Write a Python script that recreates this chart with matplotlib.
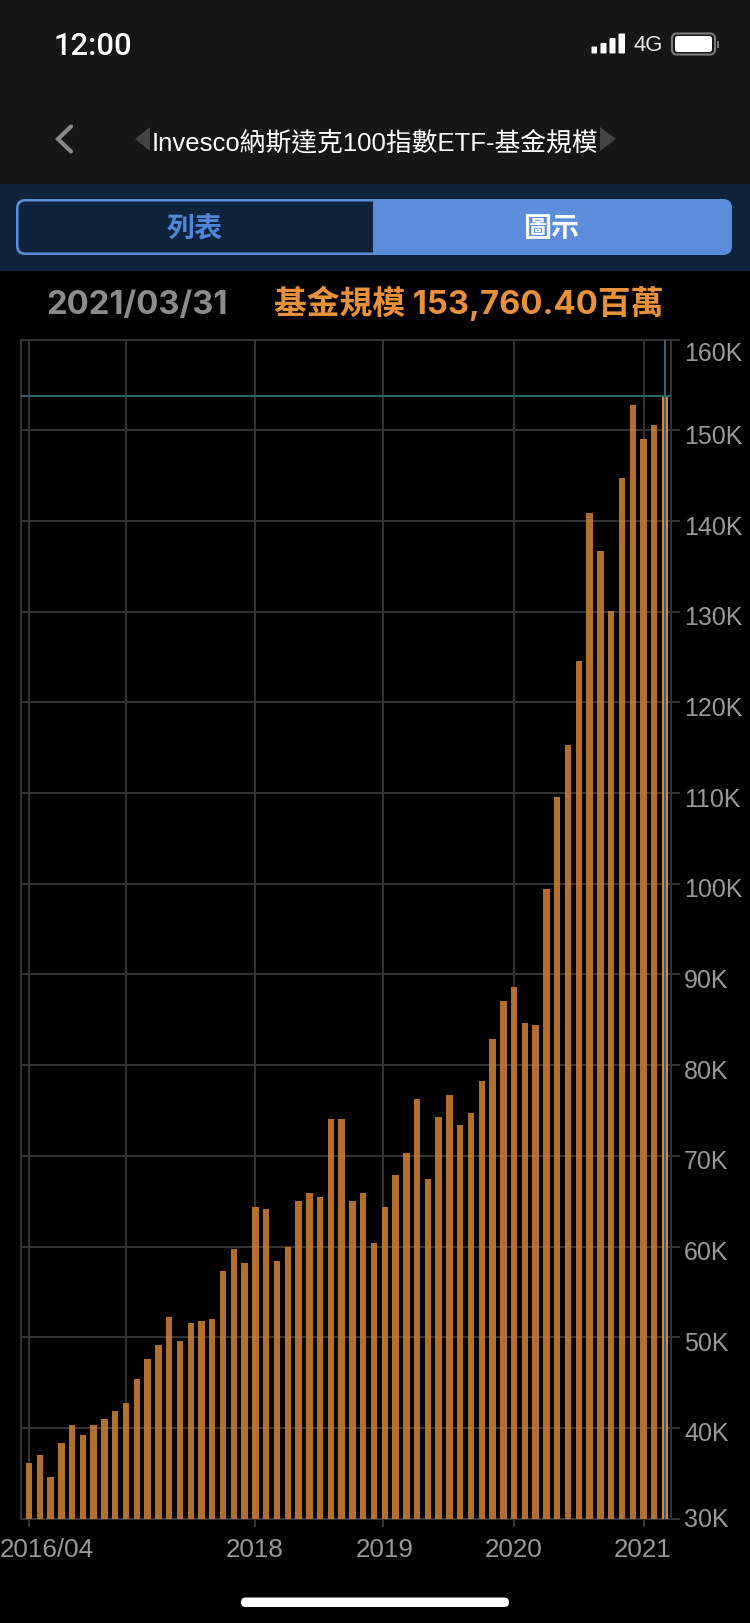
import matplotlib
matplotlib.use("Agg")
import matplotlib.pyplot as plt
import numpy as np
from matplotlib.patches import FancyBboxPatch, Polygon, Rectangle
from matplotlib.transforms import ScaledTranslation

# fund size in thousands of millions, one bar per month 2016/04 - 2021/03
values = [
    36.1, 37.0, 34.6, 38.3, 40.3, 39.2, 40.3, 41.0, 41.9, 42.75,
    45.4, 47.6, 49.15, 52.2, 49.6, 51.6, 51.8, 52.0, 57.3, 59.7,
    58.2, 64.4, 64.15, 58.4, 59.95, 65.0, 65.9, 65.5, 74.1, 74.1,
    65.0, 65.9, 60.4, 64.4, 67.9, 70.3, 76.3, 67.45, 74.3, 76.7,
    73.4, 74.7, 78.3, 82.9, 87.1, 88.6, 84.7, 84.4, 99.4, 109.6,
    115.3, 124.6, 140.9, 136.7, 130.1, 144.7, 152.8, 149.1, 150.6, 153.76,
]
y_ticks = [30, 40, 50, 60, 70, 80, 90, 100, 110, 120, 130, 140, 150, 160]
y_labels = [f"{v}K" for v in y_ticks]
x_ticks = [0, 21, 32.85, 45, 57]
x_labels = ["2016/04", "2018", "2019", "2020", "2021"]
extra_grid = [9]  # 2017 has a grid line but no label
title = "Invesco納斯達克100指數ETF-基金規模"
date_text = "2021/03/31"
value_text = "基金規模 153,760.40百萬"

BAR = "#C87C35"
LAST_BAR = "#F0963C"
GRID = "#333333"
TEAL = "#2F626B"
LABEL = "#999999"
BLUE = "#5B8DDB"
NAVY = "#10233C"
HEAD = "#161616"
CJK = ["Liberation Sans", "Noto Sans CJK TC"]
BOLD = ["Inter", "Noto Sans CJK TC"]
PX = 0.72  # px -> pt at dpi 100

fig = plt.figure(figsize=(7.5, 16.24), dpi=100, facecolor="black")

# 1. phone screen around the chart, in pixel coordinates
ui = fig.add_axes([0, 0, 1, 1])
ui.set_xlim(0, 750)
ui.set_ylim(1624, 0)
ui.axis("off")


def rect(x0, y0, x1, y1, color, round_px=0):
    if round_px:
        ui.add_patch(FancyBboxPatch((x0, y0), x1 - x0, y1 - y0, fc=color, ec="none",
                                    boxstyle=f"round,pad=0,rounding_size={round_px}"))
    else:
        ui.add_patch(Rectangle((x0, y0), x1 - x0, y1 - y0, fc=color, ec="none"))


rect(0, 0, 750, 185, HEAD)
rect(0, 185, 750, 272, NAVY)

# status bar
ui.text(54, 46.5, "12:00", color="white", fontsize=31 * PX, family="Roboto", weight="medium",
        ha="left", va="center")
for x0, x1, top in [(591.5, 597, 47.5), (600.5, 606.5, 44), (609.5, 615.5, 39), (618.5, 625, 34.5)]:
    rect(x0, top, x1, 54.5, "white", 0.8)
ui.text(633, 45.5, "4G", color="#E8E8E8", fontsize=22 * PX, family="Liberation Sans",
        ha="left", va="center")
ui.add_patch(FancyBboxPatch((672, 34.5), 43, 21, fc="none", ec="#777777", lw=1.6,
                            boxstyle="round,pad=0,rounding_size=5"))
rect(675, 37, 712, 53, "white", 2.5)
rect(716.5, 42, 719, 48.5, "#777777")

# nav bar
ui.plot([71, 58, 71], [127.5, 140, 152.5], color="#8A8A8A", lw=3.2 * PX * 1.3,
        solid_capstyle="round", solid_joinstyle="miter")
ui.add_patch(Polygon([(150, 128), (150, 152), (135, 140)], fc="#444444", ec="none"))
ui.add_patch(Polygon([(600, 128), (600, 152), (616, 140)], fc="#444444", ec="none"))
ui.text(375, 143, title, color="white", fontsize=25.8 * PX, family=CJK, ha="center", va="center")

# list / chart toggle
rect(16, 200, 732, 256, BLUE, 9)
rect(18.5, 202.5, 390, 253.5, NAVY, 7)
rect(373, 200, 400, 256, BLUE)
ui.text(195, 229, "列表", color="#4F86D8", fontsize=28 * PX, family="Noto Sans CJK TC",
        weight="bold", ha="center", va="center")
ui.text(552, 229, "圖示", color="white", fontsize=28 * PX, family="Noto Sans CJK TC",
        weight="bold", ha="center", va="center")

# value row
ui.text(46, 305.5, date_text, color="#8C8C8C", fontsize=32.8 * PX, family=BOLD, weight="bold",
        ha="left", va="center")
ui.text(274, 303.5, value_text, color="#E8903A", fontsize=32.8 * PX, family=BOLD, weight="bold",
        ha="left", va="center")

# home indicator
rect(241, 1598.5, 509, 1608, "white", 4.7)

# 2. bar chart
left, right, top, bottom = 21, 671, 340.7, 1519.6
ax = fig.add_axes([left / 750, 1 - bottom / 1624, (right - left) / 750, (bottom - top) / 1624])
ax.set_facecolor("black")

x = np.arange(len(values))
colors = [BAR] * (len(values) - 1) + [LAST_BAR]
ax.bar(x, values, width=6.4 / 10.78, color=colors, alpha=0.9, zorder=3)
ax.set_xlim(-0.742, 59.55)
ax.set_ylim(y_ticks[0], y_ticks[-1])

ax.grid(True, color=GRID, lw=2 * PX, zorder=1)
ax.set_axisbelow(True)
for g in extra_grid:
    ax.axvline(g, color=GRID, lw=2 * PX, zorder=1)

ax.yaxis.tick_right()
ax.set_yticks(y_ticks, y_labels)
ax.set_xticks(x_ticks, x_labels)
ax.tick_params(axis="y", length=9 * PX, width=2 * PX, color=GRID, pad=4 * PX,
               labelsize=25 * PX, labelcolor=LABEL)
ax.tick_params(axis="x", length=8 * PX, width=2 * PX, color=GRID, pad=10 * PX,
               labelsize=26 * PX, labelcolor=LABEL)
for lab in ax.get_xticklabels() + ax.get_yticklabels():
    lab.set_fontfamily("Liberation Sans")
for sp in ax.spines.values():
    sp.set_color(GRID)
    sp.set_linewidth(2 * PX)

# end labels are pushed inside by the app, the rest sit a little under their line
for lab, v in zip(ax.get_yticklabels(), y_ticks):
    dy = -11 if v == 160 else (2 if v == 30 else -3)
    lab.set_transform(lab.get_transform() + ScaledTranslation(0, dy / 100, fig.dpi_scale_trans))
x_label_dx = {"2016/04": 17.5, "2019": 2}
for lab, name in zip(ax.get_xticklabels(), x_labels):
    dx = x_label_dx.get(name, -1)
    lab.set_transform(lab.get_transform() + ScaledTranslation(dx / 100, 0, fig.dpi_scale_trans))

# crosshair on last month
ax.axhline(values[-1], color=TEAL, lw=2 * PX, zorder=5)
ax.axvline(x[-1], color=TEAL, lw=2 * PX, zorder=5)

fig.savefig("out.png", dpi=100, facecolor="black")
